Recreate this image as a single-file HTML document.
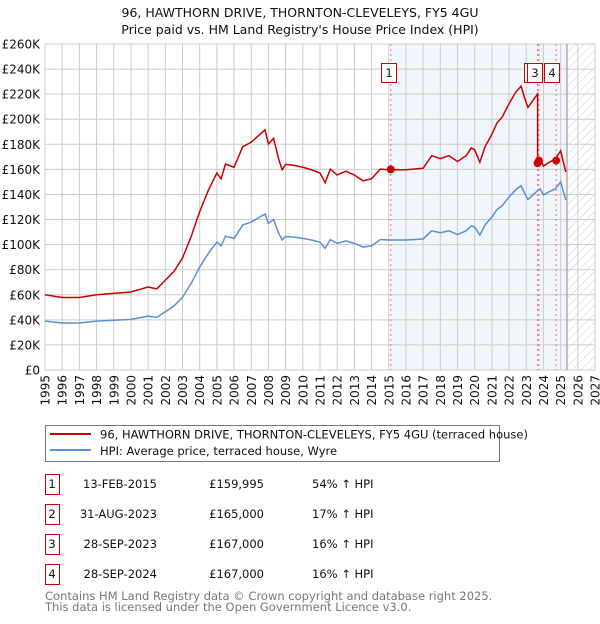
<!DOCTYPE html>
<html><head><meta charset="utf-8"><style>
body{margin:0;background:#fff;font-family:"DejaVu Sans","Liberation Sans",sans-serif;}
svg text{font-family:"DejaVu Sans","Liberation Sans",sans-serif;}
</style></head><body>
<svg id="chart" width="600" height="620" viewBox="0 0 600 620" xmlns="http://www.w3.org/2000/svg">
<defs>
<pattern id="hatch" patternUnits="userSpaceOnUse" width="6" height="6" patternTransform="rotate(45)"><line x1="0" y1="0" x2="0" y2="6" stroke="#ccc" stroke-width="1"/></pattern>
</defs>
<text x="300" y="17" text-anchor="middle" font-size="12.5" fill="#111">96, HAWTHORN DRIVE, THORNTON-CLEVELEYS, FY5 4GU</text>
<text x="300" y="34" text-anchor="middle" font-size="12.5" fill="#111">Price paid vs. HM Land Registry's House Price Index (HPI)</text>
<g id="plot"></g>
<g>
<rect x="45.5" y="425.5" width="454" height="36" fill="#fff" stroke="#777"/>
<line x1="50" y1="434" x2="91" y2="434" stroke="#cc0000" stroke-width="2"/>
<text x="100" y="438.5" font-size="11.5" fill="#111">96, HAWTHORN DRIVE, THORNTON-CLEVELEYS, FY5 4GU (terraced house)</text>
<line x1="50" y1="450" x2="91" y2="450" stroke="#5b8fd4" stroke-width="2"/>
<text x="100" y="455" font-size="11.5" fill="#111">HPI: Average price, terraced house, Wyre</text>
</g>
<g id="table"></g>
<text x="45" y="600" font-size="11.5" fill="#777">Contains HM Land Registry data © Crown copyright and database right 2025.</text>
<text x="45" y="611" font-size="11.5" fill="#777">This data is licensed under the Open Government Licence v3.0.</text>
</svg>
<script>
const hpiYears=[1995,1996,1997,1998,1999,2000,2001,2001.5,2002,2002.5,2003,2003.5,2004,2004.5,2005,2005.25,2005.5,2006,2006.5,2007,2007.5,2007.8,2008,2008.3,2008.6,2008.8,2009,2009.5,2010,2010.5,2011,2011.3,2011.6,2012,2012.5,2013,2013.5,2014,2014.5,2015,2016,2017,2017.5,2018,2018.5,2019,2019.5,2019.8,2020,2020.3,2020.6,2021,2021.3,2021.6,2022,2022.4,2022.7,2022.9,2023.1,2023.5,2023.66,2023.8,2024,2024.3,2024.7,2025,2025.3];
const hpiValues=[39,37.5,37.5,39,39.7,40.4,43,42,46.5,51,58,69,82,93,102,99,106.7,105,115.6,118,122,124.4,117,120,109,103.7,106.5,106,105,103.7,102,97,104,101,103,101,98,99,104,103.7,103.7,104.5,111,109.5,111,108,111,115,114,107.6,115.6,122,128,131,138,144,147,141,136,141,143,144.5,139.6,142,144.5,150,135.6];
const priceYears=[1995,1996,1997,1998,1999,2000,2001,2001.5,2002,2002.5,2003,2003.5,2004,2004.5,2005,2005.25,2005.5,2006,2006.5,2007,2007.5,2007.8,2008,2008.3,2008.6,2008.8,2009,2009.5,2010,2010.5,2011,2011.3,2011.6,2012,2012.5,2013,2013.5,2014,2014.5,2015,2016,2017,2017.5,2018,2018.5,2019,2019.5,2019.8,2020,2020.3,2020.6,2021,2021.3,2021.6,2022,2022.4,2022.7,2022.9,2023.1,2023.5,2023.66,2023.66,2023.8,2024,2024.3,2024.7,2025,2025.3];
const priceValues=[60,57.8,57.8,60,61.1,62.2,66.2,64.7,71.6,78.5,89.3,106.3,126.3,143.2,157.1,152.5,164.3,161.7,178,181.7,187.9,191.6,180.2,184.8,167.9,159.7,164,163.2,161.7,159.7,157.1,149.4,160.2,155.5,158.6,155.5,150.9,152.5,160.2,159.7,159.7,160.9,170.9,168.6,170.9,166.3,170.9,177.1,175.6,165.7,178,187.9,197.1,201.7,212.5,221.8,226.4,217.1,209.4,217.1,220.2,165,168.3,162.6,165.4,168.3,174.8,158];
const saleLabels=["1","2","3","4"];
const saleYears=[2015.12,2023.66,2023.74,2024.74];
const salePrices=[159995,165000,167000,167000];
const saleDates=["13-FEB-2015","31-AUG-2023","28-SEP-2023","28-SEP-2024"];
const salePriceText=["£159,995","£165,000","£167,000","£167,000"];
const saleHpiText=["54% ↑ HPI","17% ↑ HPI","16% ↑ HPI","16% ↑ HPI"];
const yTicks=[0,20,40,60,80,100,120,140,160,180,200,220,240,260];
const yTickLabels=["£0","£20K","£40K","£60K","£80K","£100K","£120K","£140K","£160K","£180K","£200K","£220K","£240K","£260K"];
const xTicks=[1995,1996,1997,1998,1999,2000,2001,2002,2003,2004,2005,2006,2007,2008,2009,2010,2011,2012,2013,2014,2015,2016,2017,2018,2019,2020,2021,2022,2023,2024,2025,2026,2027];

const X0=45,X1=595,Y0=370,Y1=44;
const xs=y=>X0+(y-1995)/(2027-1995)*(X1-X0);
const ys=v=>Y0-v/260*(Y0-Y1);
const NS="http://www.w3.org/2000/svg";
function mk(p,tag,attrs){const e=document.createElementNS(NS,tag);for(const k in attrs)e.setAttribute(k,attrs[k]);p.appendChild(e);return e;}
const g=document.getElementById('plot');
const hatchStart=2025.37;
let r=mk(g,'rect',{x:xs(saleYears[0]),y:Y1,width:xs(hatchStart)-xs(saleYears[0]),height:Y0-Y1,fill:'#eef2fb',opacity:'0.8'});


r=mk(g,'rect',{x:xs(hatchStart),y:Y1,width:X1-xs(hatchStart),height:Y0-Y1,fill:'url(#hatch)'});


xTicks.forEach((t,i)=>{
  const l=mk(g,'line',{x1:xs(t),x2:xs(t),y1:Y1,y2:Y0,stroke:'#ccc','stroke-width':1});
  
  
  const px=xs(t)+4.5, py=Y0+5;
  const tx=mk(g,'text',{x:px,y:py,'text-anchor':'end','font-size':12,fill:'#111',transform:'rotate(-90 '+px+' '+py+')'});
  tx.textContent=t;
  
  
});
yTicks.forEach((t,i)=>{
  const l=mk(g,'line',{x1:X0,x2:X1,y1:ys(t),y2:ys(t),stroke:'#ccc','stroke-width':1});
  
  
  const tx=mk(g,'text',{x:40,y:ys(t)+4.5,'text-anchor':'end','font-size':12,fill:'#111'});
  tx.textContent=yTickLabels[i];
  
  
});
let vl=mk(g,'line',{x1:xs(hatchStart),x2:xs(hatchStart),y1:Y1,y2:Y0,stroke:'#888','stroke-width':1});


saleYears.forEach((y,i)=>{
  const l=mk(g,'line',{x1:xs(y),x2:xs(y),y1:Y1,y2:Y0,stroke:'#f07070','stroke-width':1,'stroke-dasharray':'2,3'});
  
  
});
let hp=mk(g,'polyline',{points:hpiYears.map((y,i)=>xs(y)+','+ys(hpiValues[i])).join(' '),fill:'none',stroke:'#5b8fd4','stroke-width':1.5});


let pp=mk(g,'polyline',{points:priceYears.map((y,i)=>xs(y)+','+ys(priceValues[i])).join(' '),fill:'none',stroke:'#cc0000','stroke-width':1.5});


saleYears.forEach((y,i)=>{
  const c=mk(g,'circle',{cx:xs(y),cy:ys(salePrices[i]/1000),r:4,fill:'#cc0000'});
  
  
});
saleYears.forEach((y,i)=>{
  const rr=mk(g,'rect',{x:(i===0?381.5:(i===1?524.5:(i===2?527.5:544.5))),y:63.5,width:15,height:19,fill:'#fff',stroke:'#cc0000'});
  
  
  const t=mk(g,'text',{x:(i===0?389:(i===1?532:(i===2?535:552))),y:77,'text-anchor':'middle','font-size':11.5,fill:'#111'});
  t.textContent=saleLabels[i];
  
  
});
const tb=document.getElementById('table');
saleLabels.forEach((s,i)=>{
  const cy=483+i*30;
  const rr=mk(tb,'rect',{x:45.5,y:cy-8.5,width:14,height:20,fill:'#fff',stroke:'#cc0000'});
  
  
  const cells=[[52,'middle',s],[157,'end',saleDates[i]],[264,'end',salePriceText[i]],[312,'start',saleHpiText[i]]];
  cells.forEach((c,j)=>{
    const t=mk(tb,'text',{x:c[0],y:cy+5,'text-anchor':c[1],'font-size':11.5,fill:'#111'});
    t.textContent=c[2];
    
    
  });
});
</script>
</body></html>
